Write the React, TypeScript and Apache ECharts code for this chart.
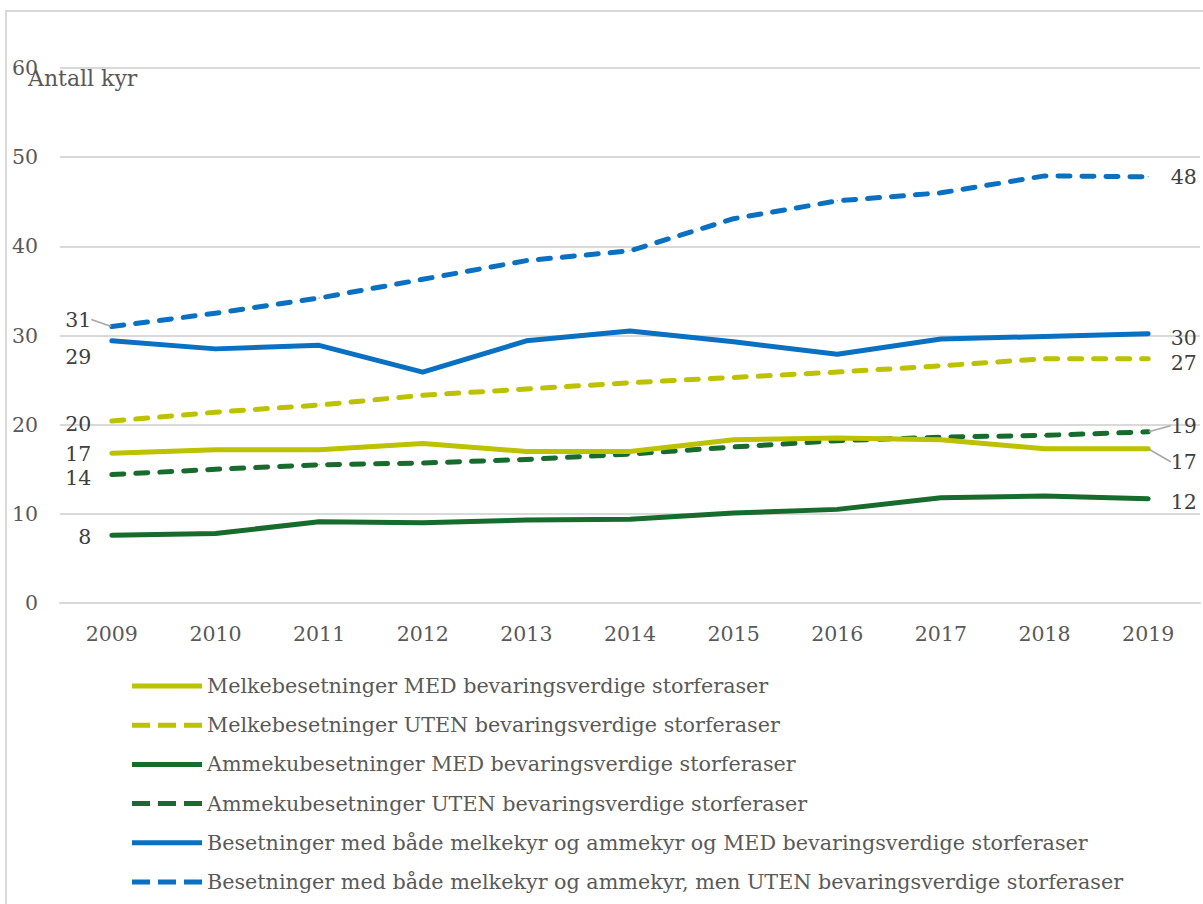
import React, { useEffect, useRef } from "react";
import * as echarts from "echarts";

const years = ["2009", "2010", "2011", "2012", "2013", "2014", "2015", "2016", "2017", "2018", "2019"];
const seriesNames = [
  "Melkebesetninger MED bevaringsverdige storferaser",
  "Melkebesetninger UTEN bevaringsverdige storferaser",
  "Ammekubesetninger MED bevaringsverdige storferaser",
  "Ammekubesetninger UTEN bevaringsverdige storferaser",
  "Besetninger med både melkekyr og ammekyr og MED bevaringsverdige storferaser",
  "Besetninger med både melkekyr og ammekyr, men UTEN bevaringsverdige storferaser",
];
const melkMed = [16.8, 17.2, 17.2, 17.9, 17.0, 17.0, 18.3, 18.5, 18.3, 17.3, 17.3];
const melkUten = [20.4, 21.4, 22.2, 23.3, 24.0, 24.7, 25.3, 25.9, 26.6, 27.4, 27.4];
const ammeMed = [7.6, 7.8, 9.1, 9.0, 9.3, 9.4, 10.1, 10.5, 11.8, 12.0, 11.7];
const ammeUten = [14.4, 15.0, 15.5, 15.7, 16.1, 16.7, 17.5, 18.2, 18.6, 18.8, 19.2];
const beggeMed = [29.4, 28.5, 28.9, 25.9, 29.4, 30.5, 29.3, 27.9, 29.6, 29.9, 30.2];
const beggeUten = [31.0, 32.5, 34.2, 36.3, 38.4, 39.5, 43.1, 45.1, 46.0, 47.9, 47.8];
const yTicks = { min: 0, max: 60, interval: 10 };

const allData = [melkMed, melkUten, ammeMed, ammeUten, beggeMed, beggeUten];
const colors = ["#BCC100", "#BCC100", "#176B2C", "#176B2C", "#0A70C2", "#0A70C2"];
const dashed = [false, true, false, true, false, true];

// label vertical shifts [first, last] and whether a leader line is drawn
const labelShift = [
  [1, 13],
  [3, 4],
  [2, 3],
  [3, -6],
  [16, 4],
  [-7, 0],
];
const leader = [
  [false, true],
  [false, false],
  [false, false],
  [false, true],
  [false, false],
  [true, false],
];

const FONT = "'DejaVu Serif', Georgia, serif";
const DASH_ICON = "path://M0,0h18v5h-18z M26,0h18v5h-18z M52,0h18v5h-18z";
const SOLID_ICON = "path://M0,0h70v5h-70z";

export default function App() {
  const ref = useRef<HTMLDivElement>(null);
  useEffect(() => {
    if (!ref.current) return;
    const chart = echarts.init(ref.current, undefined, { renderer: "svg" });
    const series = allData.map((arr, si) => ({
      name: seriesNames[si],
      type: "line",
      data: arr.map((v, i) => {
        const last = arr.length - 1;
        if (i === 0 || i === last) {
          const k = i === 0 ? 0 : 1;
          return {
            value: v,
            label: {
              show: true,
              position: i === 0 ? "left" : "right",
              distance: i === 0 ? 20 : 22,
              formatter: (p: any) => String(Math.round(p.value)),
              color: "#404040",
              fontSize: 20.5,
              lineHeight: 20,
              fontFamily: FONT,
            },
            labelLine: {
              show: leader[si][k],
              lineStyle: { color: "#A6A6A6", width: 1.5 },
            },
          };
        }
        return { value: v };
      }),
      symbol: "circle",
      symbolSize: 1,
      showSymbol: true,
      itemStyle: { color: colors[si] },
      lineStyle: {
        color: colors[si],
        width: 5,
        type: dashed[si] ? [12, 12] : "solid",
        cap: "round",
        join: "round",
      },
      label: { show: false },
      labelLayout: (params: any) => {
        const k = params.dataIndex === 0 ? 0 : 1;
        return { dy: labelShift[si][k] };
      },
      emphasis: { disabled: true },
      z: 10 - si,
    }));

    chart.setOption({
      animation: false,
      backgroundColor: "#ffffff",
      textStyle: { fontFamily: FONT },
      grid: { left: 60, right: 3, top: 68, bottom: 301, containLabel: false },
      xAxis: {
        type: "category",
        data: years,
        boundaryGap: true,
        axisLine: { show: true, lineStyle: { color: "#D9D9D9", width: 2 } },
        axisTick: { show: false },
        axisLabel: { color: "#595959", fontSize: 20.5, margin: 20, fontFamily: FONT },
        splitLine: { show: false },
      },
      yAxis: {
        type: "value",
        min: yTicks.min,
        max: yTicks.max,
        interval: yTicks.interval,
        axisLine: { show: false },
        axisTick: { show: false },
        axisLabel: { color: "#595959", fontSize: 20.5, margin: 22, fontFamily: FONT },
        splitLine: { show: true, lineStyle: { color: "#D9D9D9", width: 2 } },
      },
      legend: {
        orient: "vertical",
        left: 127,
        top: 669,
        height: 300,
        itemWidth: 70,
        itemHeight: 5,
        itemGap: 15.2,
        textStyle: { color: "#595959", fontSize: 20.7, lineHeight: 24, fontFamily: FONT },
        data: seriesNames.map((n, i) => ({ name: n, icon: dashed[i] ? DASH_ICON : SOLID_ICON, itemStyle: { color: colors[i] } })),
        selectedMode: false,
      },
      graphic: [
        {
          type: "rect",
          shape: { x: 6, y: 11, width: 1400, height: 1200 },
          style: { fill: "none", stroke: "#D9D9D9", lineWidth: 2 },
          silent: true,
          z: -10,
        },
        {
          type: "text",
          left: 28,
          top: 67,
          style: { text: "Antall kyr", fill: "#595959", fontSize: 22, fontFamily: FONT },
          z: 5,
        },
      ],
      series,
    });
    return () => chart.dispose();
  }, []);
  return <div ref={ref} style={{ position: "fixed", left: 0, top: 0, width: 1203, height: 904 }} />;
}
